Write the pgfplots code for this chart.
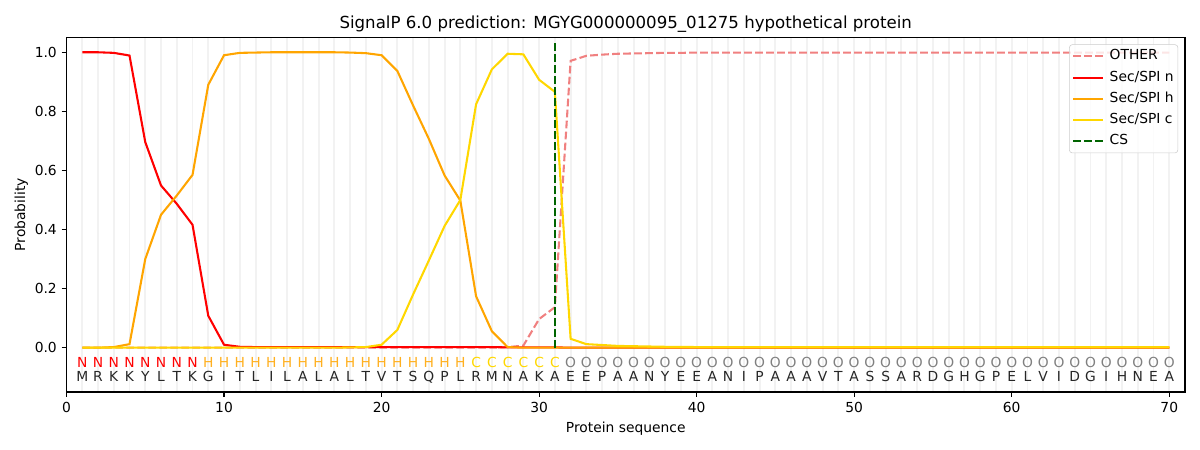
\documentclass[border=0pt]{standalone}
\usepackage{pgfplots}
\pgfplotsset{compat=1.18}
\usepackage{pgfplotstable}
\usepackage{fontspec}
\setmainfont{DejaVu Sans}
\definecolor{lightcoral}{HTML}{F08080}
\definecolor{mplorange}{HTML}{FFA500}
\definecolor{mplgold}{HTML}{FFD700}
\definecolor{darkgreen}{HTML}{006400}
\definecolor{gridgray}{HTML}{F2F2F2}
\definecolor{hlabel}{HTML}{FFB020}

\pgfplotstableread{
x other n h c
1 0 1.000 0.000 0.000
2 0 1.000 0.000 0.000
3 0 0.998 0.002 0.000
4 0 0.989 0.012 0.000
5 0 0.696 0.300 0.000
6 0 0.549 0.450 0.000
7 0 0.487 0.515 0.000
8 0 0.416 0.585 0.000
9 0 0.108 0.890 0.000
10 0 0.010 0.990 0.000
11 0 0.003 0.998 0.000
12 0 0.002 0.999 0.000
13 0 0.002 1.000 0.000
14 0 0.002 1.000 0.000
15 0 0.002 1.000 0.000
16 0 0.002 1.000 0.000
17 0 0.002 1.000 0.000
18 0 0.002 0.999 0.001
19 0 0.002 0.997 0.002
20 0 0.002 0.990 0.010
21 0 0.002 0.937 0.060
22 0 0.002 0.820 0.180
23 0 0.002 0.707 0.295
24 0 0.002 0.583 0.412
25 0 0.002 0.498 0.500
26 0 0.002 0.174 0.824
27 0 0.002 0.056 0.942
28 0.002 0.001 0.002 0.995
29 0.007 0.001 0.000 0.993
30 0.097 0.001 0.000 0.907
31 0.137 0.001 0.000 0.866
32 0.971 0.000 0.000 0.030
33 0.988 0 0 0.012
34 0.992 0 0 0.009
35 0.995 0 0 0.006
36 0.996 0 0 0.005
37 0.997 0 0 0.004
38 0.998 0 0 0.003
39 0.998 0 0 0.003
40 0.999 0 0 0.002
41 0.999 0 0 0.002
42 0.999 0 0 0.002
43 0.999 0 0 0.002
44 0.999 0 0 0.002
45 0.999 0 0 0.002
46 0.999 0 0 0.002
47 0.999 0 0 0.002
48 0.999 0 0 0.002
49 0.999 0 0 0.002
50 0.999 0 0 0.002
51 0.999 0 0 0.002
52 0.999 0 0 0.002
53 0.999 0 0 0.002
54 0.999 0 0 0.002
55 0.999 0 0 0.002
56 0.999 0 0 0.002
57 0.999 0 0 0.002
58 0.999 0 0 0.002
59 0.999 0 0 0.002
60 0.999 0 0 0.002
61 0.999 0 0 0.002
62 0.999 0 0 0.002
63 0.999 0 0 0.002
64 0.999 0 0 0.002
65 0.999 0 0 0.002
66 0.999 0 0 0.002
67 0.999 0 0 0.002
68 0.999 0 0 0.002
69 0.999 0 0 0.002
70 0.999 0 0 0.002
}\probs

\pgfplotstableread{
x y l
1 -0.116 M
2 -0.116 R
3 -0.116 K
4 -0.116 K
5 -0.116 Y
6 -0.116 L
7 -0.116 T
8 -0.116 K
9 -0.116 G
10 -0.116 I
11 -0.116 T
12 -0.116 L
13 -0.116 I
14 -0.116 L
15 -0.116 A
16 -0.116 L
17 -0.116 A
18 -0.116 L
19 -0.116 T
20 -0.116 V
21 -0.116 T
22 -0.116 S
23 -0.116 Q
24 -0.116 P
25 -0.116 L
26 -0.116 R
27 -0.116 M
28 -0.116 N
29 -0.116 A
30 -0.116 K
31 -0.116 A
32 -0.116 E
33 -0.116 E
34 -0.116 P
35 -0.116 A
36 -0.116 A
37 -0.116 N
38 -0.116 Y
39 -0.116 E
40 -0.116 E
41 -0.116 A
42 -0.116 N
43 -0.116 I
44 -0.116 P
45 -0.116 A
46 -0.116 A
47 -0.116 A
48 -0.116 V
49 -0.116 T
50 -0.116 A
51 -0.116 S
52 -0.116 S
53 -0.116 A
54 -0.116 R
55 -0.116 D
56 -0.116 G
57 -0.116 H
58 -0.116 G
59 -0.116 P
60 -0.116 E
61 -0.116 L
62 -0.116 V
63 -0.116 I
64 -0.116 D
65 -0.116 G
66 -0.116 I
67 -0.116 H
68 -0.116 N
69 -0.116 E
70 -0.116 A
}\seq

\pgfplotstableread{
x y l
1 -0.066 N
2 -0.066 N
3 -0.066 N
4 -0.066 N
5 -0.066 N
6 -0.066 N
7 -0.066 N
8 -0.066 N
}\labN

\pgfplotstableread{
x y l
9 -0.066 H
10 -0.066 H
11 -0.066 H
12 -0.066 H
13 -0.066 H
14 -0.066 H
15 -0.066 H
16 -0.066 H
17 -0.066 H
18 -0.066 H
19 -0.066 H
20 -0.066 H
21 -0.066 H
22 -0.066 H
23 -0.066 H
24 -0.066 H
25 -0.066 H
}\labH

\pgfplotstableread{
x y l
26 -0.066 C
27 -0.066 C
28 -0.066 C
29 -0.066 C
30 -0.066 C
31 -0.066 C
}\labC

\pgfplotstableread{
x y l
32 -0.066 O
33 -0.066 O
34 -0.066 O
35 -0.066 O
36 -0.066 O
37 -0.066 O
38 -0.066 O
39 -0.066 O
40 -0.066 O
41 -0.066 O
42 -0.066 O
43 -0.066 O
44 -0.066 O
45 -0.066 O
46 -0.066 O
47 -0.066 O
48 -0.066 O
49 -0.066 O
50 -0.066 O
51 -0.066 O
52 -0.066 O
53 -0.066 O
54 -0.066 O
55 -0.066 O
56 -0.066 O
57 -0.066 O
58 -0.066 O
59 -0.066 O
60 -0.066 O
61 -0.066 O
62 -0.066 O
63 -0.066 O
64 -0.066 O
65 -0.066 O
66 -0.066 O
67 -0.066 O
68 -0.066 O
69 -0.066 O
70 -0.066 O
}\labO

\begin{document}
\begin{tikzpicture}
\path[use as bounding box] (0,0) rectangle (12in,4.5in);
\begin{axis}[
  at={(0.665in,0.58in)}, anchor=south west, scale only axis,
  width=11.185in, height=3.545in,
  xmin=0, xmax=71, ymin=-0.15, ymax=1.05,
  xtick={0,10,20,30,40,50,60,70},
  ytick={0,0.2,0.4,0.6,0.8,1.0},
  yticklabel style={/pgf/number format/.cd, fixed, fixed zerofill, precision=1},
  minor xtick={1,...,70},
  xminorgrids,
  minor grid style={draw=gridgray, line width=1.4pt},
  minor tick length=0pt,
  tick align=outside, tick pos=left,
  major tick length=3.5pt,
  every tick/.style={black, line width=0.8pt},
  axis line style={line width=0.8pt},
  /pgf/number format/assume math mode=true,
  tick label style={font=\fontsize{10}{12}\selectfont},
  label style={font=\fontsize{10}{12}\selectfont},
  title={SignalP 6.0 prediction: MGYG000000095\_01275 hypothetical protein},
  title style={font=\fontsize{12}{14}\selectfont, yshift=-5.5pt},
  xlabel={Protein sequence},
  ylabel={Probability},
  ylabel style={yshift=-2pt},
  legend cell align=left,
  legend image code/.code={\draw[#1] (0pt,0pt) -- (21.6pt,0pt);},
  legend style={font=\fontsize{10}{12}\selectfont, draw=black!20, rounded corners=2pt,
    fill=white, fill opacity=0.8, text opacity=1,
    at={(1,1)}, xshift=-5pt, yshift=-5pt, anchor=north east,
    inner xsep=2pt, inner ysep=2.5pt, row sep=3.3pt, column sep=3pt,
    nodes={inner sep=1pt, text height=7.5pt, text depth=2.5pt}},
  every node near coord/.append style={anchor=base, inner sep=0pt, font=\fontsize{10}{12}\selectfont},
]
\addplot[lightcoral, line width=1.5pt, dash pattern=on 5.55pt off 2.4pt] table[x=x,y=other] {\probs};
\addlegendentry{OTHER}
\addplot[red, line width=1.5pt] table[x=x,y=n] {\probs};
\addlegendentry{Sec/SPI n}
\addplot[mplorange, line width=1.5pt] table[x=x,y=h] {\probs};
\addlegendentry{Sec/SPI h}
\addplot[mplgold, line width=1.5pt] table[x=x,y=c] {\probs};
\addlegendentry{Sec/SPI c}
\addplot[darkgreen, line width=1.5pt, dash pattern=on 5.55pt off 2.4pt] coordinates {(31,0) (31,1.04)};
\addlegendentry{CS}

\addplot[draw=none, mark=none, forget plot, color=red, nodes near coords, point meta=explicit symbolic] table[x=x,y=y,meta=l] {\labN};
\addplot[draw=none, mark=none, forget plot, color=hlabel, nodes near coords, point meta=explicit symbolic] table[x=x,y=y,meta=l] {\labH};
\addplot[draw=none, mark=none, forget plot, color=mplgold, nodes near coords, point meta=explicit symbolic] table[x=x,y=y,meta=l] {\labC};
\addplot[draw=none, mark=none, forget plot, color=gray, nodes near coords, point meta=explicit symbolic] table[x=x,y=y,meta=l] {\labO};
\addplot[draw=none, mark=none, forget plot, color=black!85, nodes near coords, point meta=explicit symbolic] table[x=x,y=y,meta=l] {\seq};
\end{axis}
\end{tikzpicture}
\end{document}
